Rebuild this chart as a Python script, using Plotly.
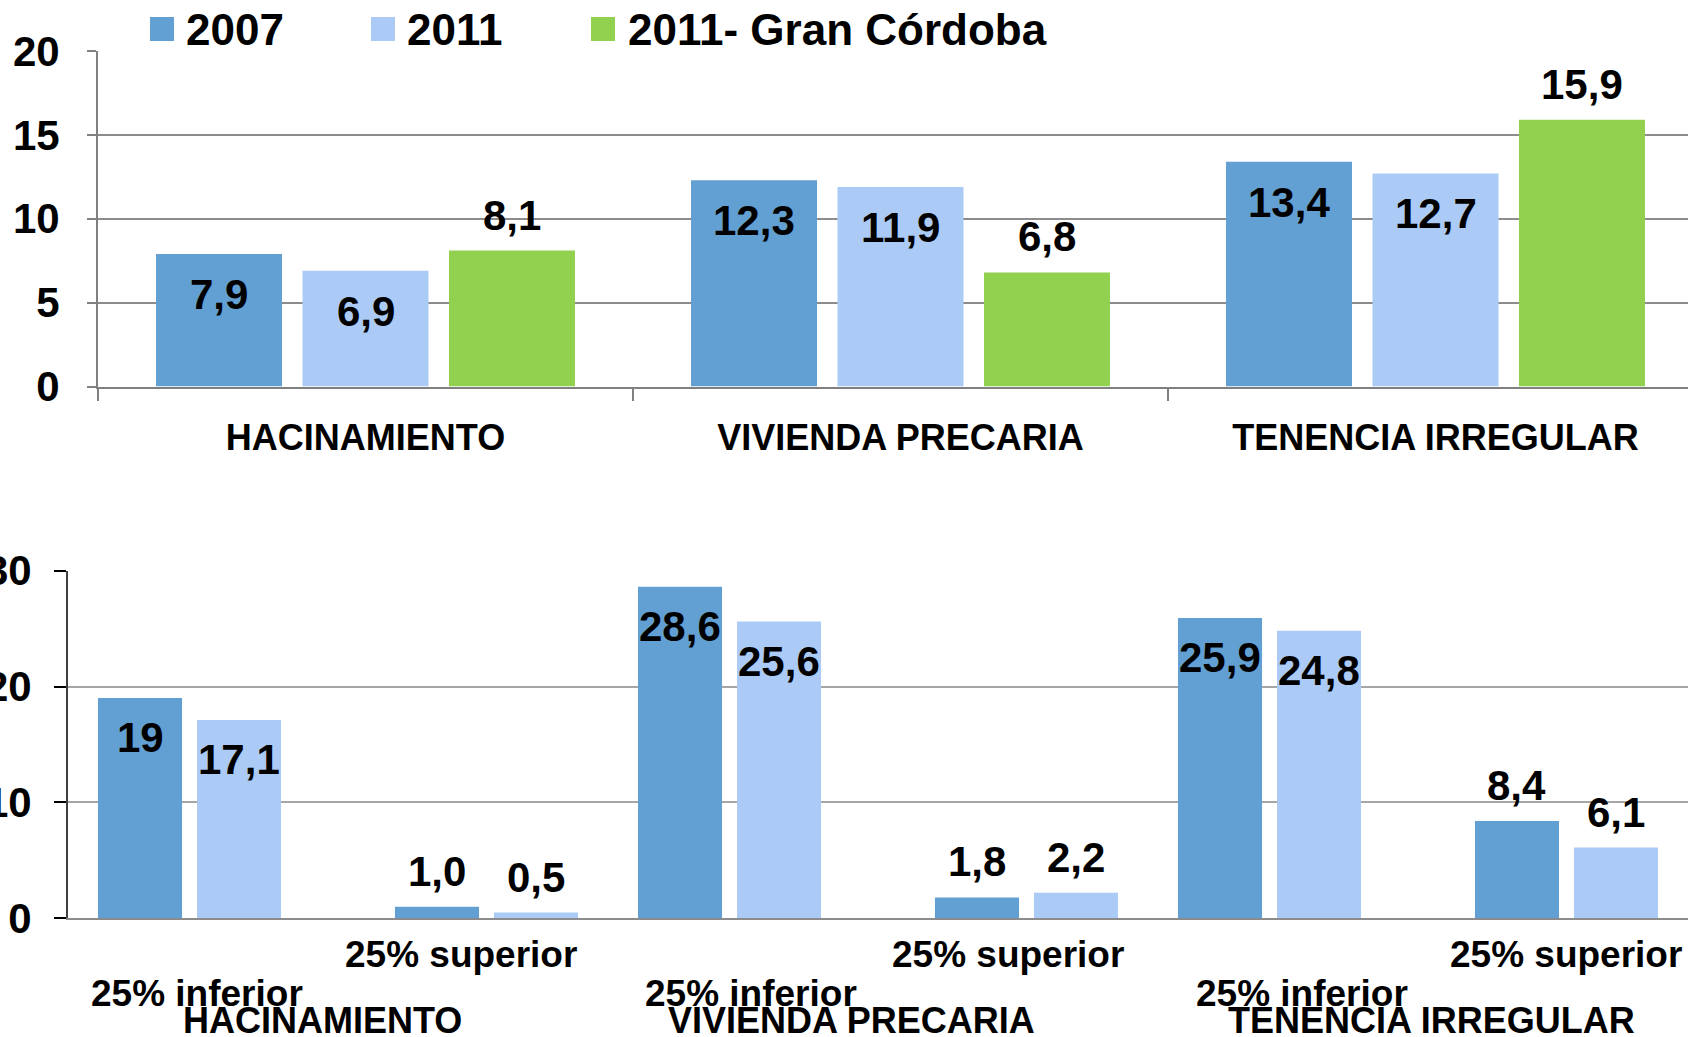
import plotly.graph_objects as go

# ---------------- data ----------------
groups = ["HACINAMIENTO", "VIVIENDA PRECARIA", "TENENCIA IRREGULAR"]
series_names = ["2007", "2011", "2011- Gran Córdoba"]
top_2007 = [7.9, 12.3, 13.4]
top_2011 = [6.9, 11.9, 12.7]
top_gc = [8.1, 6.8, 15.9]

quartiles = ["25% inferior", "25% superior"]
bot_2007_inf = [19, 28.6, 25.9]
bot_2011_inf = [17.1, 25.6, 24.8]
bot_2007_sup = [1.0, 1.8, 8.4]
bot_2011_sup = [0.5, 2.2, 6.1]

top_yticks = [0, 5, 10, 15, 20]
bot_yticks = [0, 10, 20, 30]

# ---------------- style ----------------
W, H = 1688, 1037
C2007 = "#629FD2"
C2011 = "#ABCBF6"
CGC = "#92D050"
FONT = "Liberation Sans, Arial, sans-serif"

TOP_W = 0.2355      # bar width (category units)
TOP_STEP = 0.2738   # distance between bar centres
BOT_W = 0.1556
BOT_STEP = 0.1833

# small horizontal nudges of the bottom axis labels (group units)
SUP_NUDGE = [-0.022, -0.010, 0.024]
INF_NUDGE = [-0.012, 0.014, 0.035]
GRP_NUDGE = [-0.028, -0.050, 0.025]


def fmt(v):
    return str(v) if isinstance(v, int) else f"{v:.1f}".replace(".", ",")


fig = go.Figure()
annotations = []

# ---- top chart ----
top_series = [(series_names[0], top_2007, C2007, "in"),
              (series_names[1], top_2011, C2011, "in"),
              (series_names[2], top_gc, CGC, "out")]
for k, (name, vals, col, pos) in enumerate(top_series):
    centre = (k - 1) * TOP_STEP
    fig.add_trace(go.Bar(
        x=groups, y=vals, name=name, marker_color=col,
        marker_line_width=0, width=TOP_W, offset=centre - TOP_W / 2,
        xaxis="x", yaxis="y", showlegend=False))
    for i, v in enumerate(vals):
        annotations.append(dict(
            xref="x", yref="y", x=i + centre, y=v, text=fmt(v),
            showarrow=False, font=dict(family=FONT, size=42, color="black", weight="bold"),
            yanchor="top" if pos == "in" else "bottom",
            yshift=-15 if pos == "in" else 10))

# ---- bottom chart ----
bot_series = [(-2, series_names[0], bot_2007_inf, C2007, "in"),
              (-1, series_names[1], bot_2011_inf, C2011, "in"),
              (1, series_names[0], bot_2007_sup, C2007, "out"),
              (2, series_names[1], bot_2011_sup, C2011, "out")]
for slot, name, vals, col, pos in bot_series:
    centre = slot * BOT_STEP
    fig.add_trace(go.Bar(
        x=groups, y=vals, name=name, marker_color=col,
        marker_line_width=0, width=BOT_W, offset=centre - BOT_W / 2,
        xaxis="x2", yaxis="y2", showlegend=False))
    for i, v in enumerate(vals):
        annotations.append(dict(
            xref="x2", yref="y2", x=i + centre, y=v, text=fmt(v),
            showarrow=False, font=dict(family=FONT, size=42, color="black", weight="bold"),
            yanchor="top" if pos == "in" else "bottom",
            yshift=-14 if pos == "in" else 10))

# bottom category labels
for i, g in enumerate(groups):
    annotations.append(dict(xref="x2", yref="paper", x=i + 0.25 + SUP_NUDGE[i], y=1 - 954 / H,
                            text=quartiles[1], showarrow=False, yanchor="middle",
                            font=dict(family=FONT, size=37, color="black", weight="bold")))
    annotations.append(dict(xref="x2", yref="paper", x=i - 0.25 + INF_NUDGE[i], y=1 - 993 / H,
                            text=quartiles[0], showarrow=False, yanchor="middle",
                            font=dict(family=FONT, size=37, color="black", weight="bold")))
    annotations.append(dict(xref="x2", yref="paper", x=i + GRP_NUDGE[i], y=1 - 1020 / H,
                            text=g, showarrow=False, yanchor="middle",
                            font=dict(family=FONT, size=36, color="black", weight="bold")))

# legend (manual, to get large swatches)
shapes = []
legend_items = [(series_names[0], C2007, 150, 184),
                (series_names[1], C2011, 371, 405),
                (series_names[2], CGC, 591, 626)]
for name, col, sx, tx in legend_items:
    shapes.append(dict(type="rect", xref="paper", yref="paper",
                       x0=sx / W, x1=(sx + 24) / W, y0=1 - 41 / H, y1=1 - 17 / H,
                       fillcolor=col, line_width=0))
    annotations.append(dict(xref="paper", yref="paper", x=tx / W, y=1 - 29 / H,
                            xanchor="left", yanchor="middle", text=name, showarrow=False,
                            font=dict(family=FONT, size=44, color="black", weight="bold")))

fig.update_layout(
    width=W, height=H, autosize=False,
    margin=dict(l=0, r=0, t=0, b=0, pad=0, autoexpand=False),
    paper_bgcolor="white", plot_bgcolor="white",
    barmode="overlay",
    showlegend=False,
    annotations=annotations, shapes=shapes,
    xaxis=dict(domain=[98 / W, 1], type="category", categoryarray=groups,
               range=[-0.5, -0.5 + 1590 / 535], anchor="y", automargin=False,
               showline=True, linecolor="#808080", linewidth=2,
               ticks="outside", tickson="boundaries", ticklen=12, tickwidth=2,
               tickcolor="#808080", showgrid=False, ticklabelstandoff=18,
               tickfont=dict(family=FONT, size=36, color="black", weight="bold")),
    yaxis=dict(domain=[1 - 386.5 / H, 1 - 51 / H], range=[0, 20], anchor="x",
               automargin=False,
               tickvals=top_yticks, showline=True, linecolor="#808080", linewidth=2,
               ticks="outside", ticklen=9, tickwidth=2, tickcolor="#808080",
               showgrid=True, gridcolor="#8C8C8C", gridwidth=2, zeroline=False,
               ticklabelstandoff=19,
               tickfont=dict(family=FONT, size=42, color="black", weight="bold")),
    xaxis2=dict(domain=[68 / W, 1], type="category", categoryarray=groups,
                range=[-0.5, 2.5], anchor="y2", showticklabels=False, automargin=False,
                showline=True, linecolor="#8C8C8C", linewidth=2, ticks="",
                showgrid=False),
    yaxis2=dict(domain=[1 - 918.3 / H, 1 - 570.6 / H], range=[0, 30], anchor="x2",
                automargin=False,
                tickvals=bot_yticks, showline=True, linecolor="#404040", linewidth=2,
                ticks="outside", ticklen=12, tickwidth=2, tickcolor="black",
                showgrid=True, gridcolor="#A6A6A6", gridwidth=2, zeroline=False,
                ticklabelstandoff=14,
                tickfont=dict(family=FONT, size=42, color="black", weight="bold")),
)

fig.write_html("out.html", config={"displayModeBar": False},
               post_script="document.body.style.margin='0';document.body.style.overflow='hidden';")
